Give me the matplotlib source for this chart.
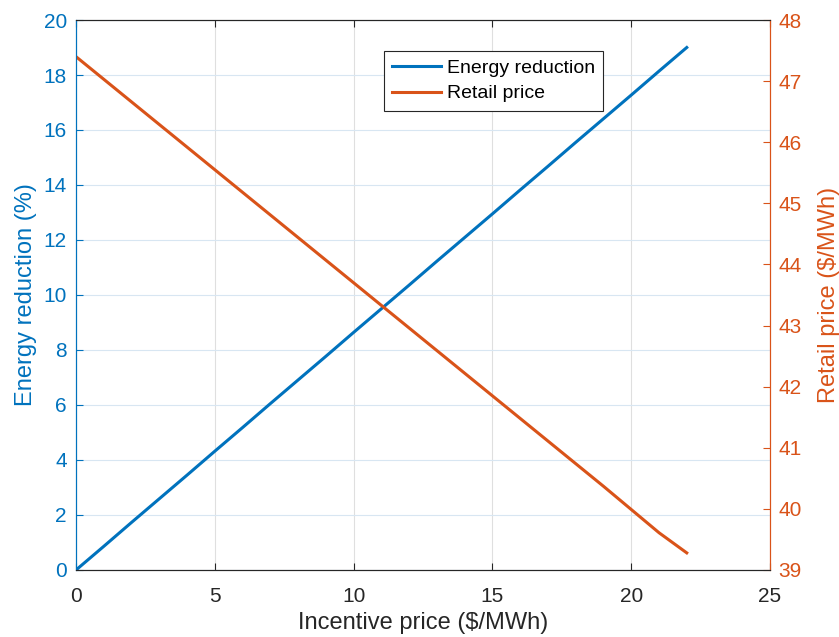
import numpy as np
import matplotlib.pyplot as plt

plt.rcParams['font.family'] = ['Liberation Sans', 'DejaVu Sans']

# data
incentive = [0, 1, 2, 3, 4, 5, 6, 7, 8, 9, 10, 11,
             12, 13, 14, 15, 16, 17, 18, 19, 20, 21, 22]
energy_red = [0.00, 0.86, 1.73, 2.59, 3.45, 4.32, 5.18, 6.05, 6.91, 7.77, 8.64, 9.50,
              10.36, 11.23, 12.09, 12.95, 13.82, 14.68, 15.55, 16.41, 17.27, 18.14, 19.00]
retail = [47.40, 47.03, 46.66, 46.29, 45.92, 45.55, 45.18, 44.81, 44.44, 44.07, 43.70, 43.33,
          42.96, 42.59, 42.22, 41.85, 41.48, 41.11, 40.74, 40.37, 39.99, 39.61, 39.28]

blue = '#0072BD'
orange = '#D95319'
dark = '#262626'

fig = plt.figure(figsize=(8.39, 6.37), dpi=100)
ax = fig.add_axes([0.0906, 0.1052, 0.8272, 0.8634])
ax2 = ax.twinx()

l1, = ax.plot(incentive, energy_red, color=blue, lw=2.2, label='Energy reduction')
l2, = ax2.plot(incentive, retail, color=orange, lw=2.2, label='Retail price')

ax.set_xlim(0, 25)
ax.set_ylim(0, 20)
ax2.set_ylim(39, 48)
ax.set_xticks(np.arange(0, 26, 5))
ax.set_yticks(np.arange(0, 21, 2))
ax2.set_yticks(np.arange(39, 49, 1))

ax.grid(True, axis='x', color='#dfdfdf', lw=0.8)
ax.grid(True, axis='y', color='#d8e6f2', lw=0.8)
ax.set_axisbelow(True)

ax.tick_params(axis='x', direction='in', length=5, top=True, colors=dark,
               labelsize=15, labelcolor=dark, pad=12)
ax.tick_params(axis='y', direction='in', length=5, colors=blue, labelsize=15, pad=6.5)
ax2.tick_params(axis='y', direction='in', length=5, colors=orange, labelsize=15, pad=6)

for a in (ax, ax2):
    a.spines['top'].set_color(dark)
    a.spines['bottom'].set_color(dark)
    a.spines['left'].set_color(blue)
    a.spines['right'].set_color(orange)

ax.set_xlabel('Incentive price ($/MWh)', fontsize=17, color=dark, labelpad=4.5)
ax.set_ylabel('Energy reduction (%)', fontsize=17, color=blue, labelpad=5)
ax2.set_ylabel('Retail price ($/MWh)', fontsize=17, color=orange, labelpad=12)

leg = ax2.legend(handles=[l1, l2], loc='upper left', bbox_to_anchor=(0.444, 0.944),
                 fontsize=14, fancybox=False, framealpha=1, edgecolor=dark,
                 handlelength=2.5, handletextpad=0.3, borderpad=0.42,
                 labelspacing=0.42, borderaxespad=0)
leg.get_frame().set_linewidth(0.8)

fig.savefig('out.png', dpi=100)
